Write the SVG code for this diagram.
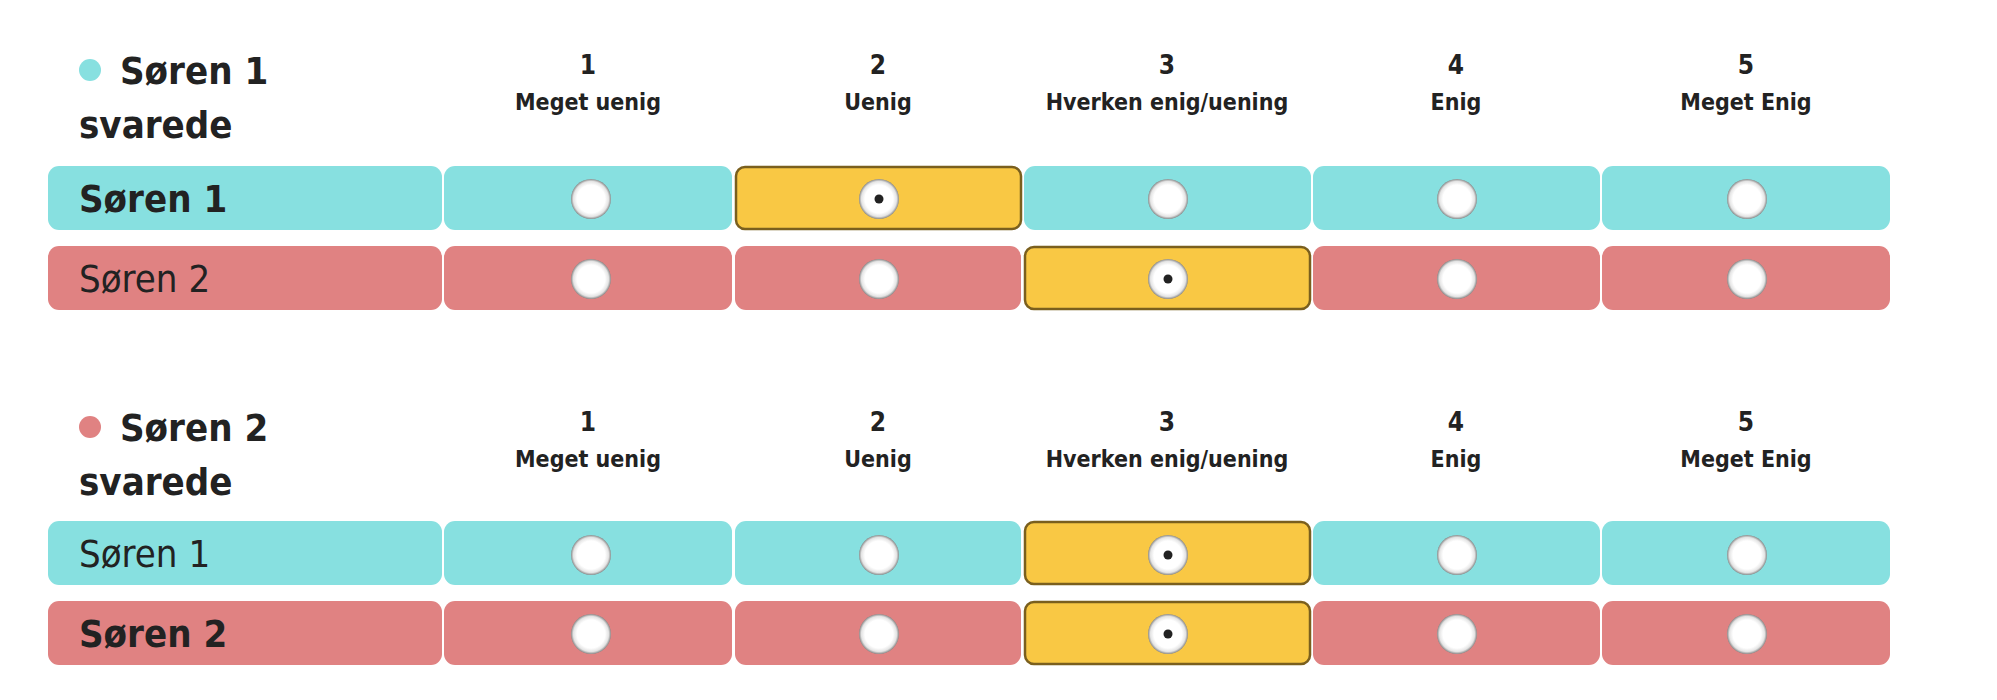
<svg xmlns="http://www.w3.org/2000/svg" width="1997" height="700" viewBox="0 0 1997 700">
<defs>
<radialGradient id="rg" cx="50%" cy="50%" r="50%">
<stop offset="70%" stop-color="#ffffff"/><stop offset="88%" stop-color="#e4e4e4"/><stop offset="100%" stop-color="#8a8a8a"/>
</radialGradient>
</defs>
<style>
text{font-family:"DejaVu Sans Condensed","DejaVu Sans",sans-serif;fill:#222}
.h{font-weight:bold;font-size:26px;text-anchor:middle}
.s{font-weight:bold;font-size:23px;text-anchor:middle}
.t{font-weight:bold;font-size:38px}
.lb{font-size:38px}
.b{font-weight:bold}
.c{fill:#87e0e0}
.r{fill:#e08282}
.y{fill:#f9c844;stroke:#7a5f1e;stroke-width:2.5}
.o{fill:url(#rg)}
.d{fill:#222}
</style>
<rect width="1997" height="700" fill="#fff"/>
<g id="block1">
<circle cx="90" cy="70" r="11" fill="#87e0e0"/>
<text class="t" x="120" y="84">Søren 1</text>
<text class="t" x="79" y="138">svarede</text>
<g id="head1">
<text class="h" x="588" y="74">1</text><text class="s" x="588" y="110">Meget uenig</text>
<text class="h" x="878" y="74">2</text><text class="s" x="878" y="110">Uenig</text>
<text class="h" x="1167" y="74">3</text><text class="s" x="1167" y="110">Hverken enig/uening</text>
<text class="h" x="1456" y="74">4</text><text class="s" x="1456" y="110">Enig</text>
<text class="h" x="1746" y="74">5</text><text class="s" x="1746" y="110">Meget Enig</text>
</g>
<g id="b1r1">
<rect class="c" x="48" y="166" width="394" height="64" rx="11"/>
<text class="lb b" x="79" y="212">Søren 1</text>
<rect class="c" x="444" y="166" width="288" height="64" rx="11"/>
<rect class="y" x="736" y="167" width="285" height="62" rx="9"/>
<rect class="c" x="1024" y="166" width="287" height="64" rx="11"/>
<rect class="c" x="1313" y="166" width="287" height="64" rx="11"/>
<rect class="c" x="1602" y="166" width="288" height="64" rx="11"/>
<circle class="o" cx="591" cy="199" r="20"/><circle class="o" cx="879" cy="199" r="20"/><circle class="d" cx="879" cy="199" r="4.5"/>
<circle class="o" cx="1168" cy="199" r="20"/><circle class="o" cx="1457" cy="199" r="20"/><circle class="o" cx="1747" cy="199" r="20"/>
</g>
<g id="b1r2">
<rect class="r" x="48" y="246" width="394" height="64" rx="11"/>
<text class="lb" x="79" y="292">Søren 2</text>
<rect class="r" x="444" y="246" width="288" height="64" rx="11"/>
<rect class="r" x="735" y="246" width="286" height="64" rx="11"/>
<rect class="y" x="1025" y="247" width="285" height="62" rx="9"/>
<rect class="r" x="1313" y="246" width="287" height="64" rx="11"/>
<rect class="r" x="1602" y="246" width="288" height="64" rx="11"/>
<circle class="o" cx="591" cy="279" r="20"/><circle class="o" cx="879" cy="279" r="20"/>
<circle class="o" cx="1168" cy="279" r="20"/><circle class="d" cx="1168" cy="279" r="4.5"/><circle class="o" cx="1457" cy="279" r="20"/><circle class="o" cx="1747" cy="279" r="20"/>
</g>
</g>
<g id="block2">
<circle cx="90" cy="427" r="11" fill="#e08282"/>
<text class="t" x="120" y="441">Søren 2</text>
<text class="t" x="79" y="495">svarede</text>
<g id="head2">
<text class="h" x="588" y="431">1</text><text class="s" x="588" y="467">Meget uenig</text>
<text class="h" x="878" y="431">2</text><text class="s" x="878" y="467">Uenig</text>
<text class="h" x="1167" y="431">3</text><text class="s" x="1167" y="467">Hverken enig/uening</text>
<text class="h" x="1456" y="431">4</text><text class="s" x="1456" y="467">Enig</text>
<text class="h" x="1746" y="431">5</text><text class="s" x="1746" y="467">Meget Enig</text>
</g>
<g id="b2r1">
<rect class="c" x="48" y="521" width="394" height="64" rx="11"/>
<text class="lb" x="79" y="567">Søren 1</text>
<rect class="c" x="444" y="521" width="288" height="64" rx="11"/>
<rect class="c" x="735" y="521" width="286" height="64" rx="11"/>
<rect class="y" x="1025" y="522" width="285" height="62" rx="9"/>
<rect class="c" x="1313" y="521" width="287" height="64" rx="11"/>
<rect class="c" x="1602" y="521" width="288" height="64" rx="11"/>
<circle class="o" cx="591" cy="555" r="20"/><circle class="o" cx="879" cy="555" r="20"/>
<circle class="o" cx="1168" cy="555" r="20"/><circle class="d" cx="1168" cy="555" r="4.5"/><circle class="o" cx="1457" cy="555" r="20"/><circle class="o" cx="1747" cy="555" r="20"/>
</g>
<g id="b2r2">
<rect class="r" x="48" y="601" width="394" height="64" rx="11"/>
<text class="lb b" x="79" y="647">Søren 2</text>
<rect class="r" x="444" y="601" width="288" height="64" rx="11"/>
<rect class="r" x="735" y="601" width="286" height="64" rx="11"/>
<rect class="y" x="1025" y="602" width="285" height="62" rx="9"/>
<rect class="r" x="1313" y="601" width="287" height="64" rx="11"/>
<rect class="r" x="1602" y="601" width="288" height="64" rx="11"/>
<circle class="o" cx="591" cy="634" r="20"/><circle class="o" cx="879" cy="634" r="20"/>
<circle class="o" cx="1168" cy="634" r="20"/><circle class="d" cx="1168" cy="634" r="4.5"/><circle class="o" cx="1457" cy="634" r="20"/><circle class="o" cx="1747" cy="634" r="20"/>
</g>
</g>
<g id="connectors"/>
</svg>
